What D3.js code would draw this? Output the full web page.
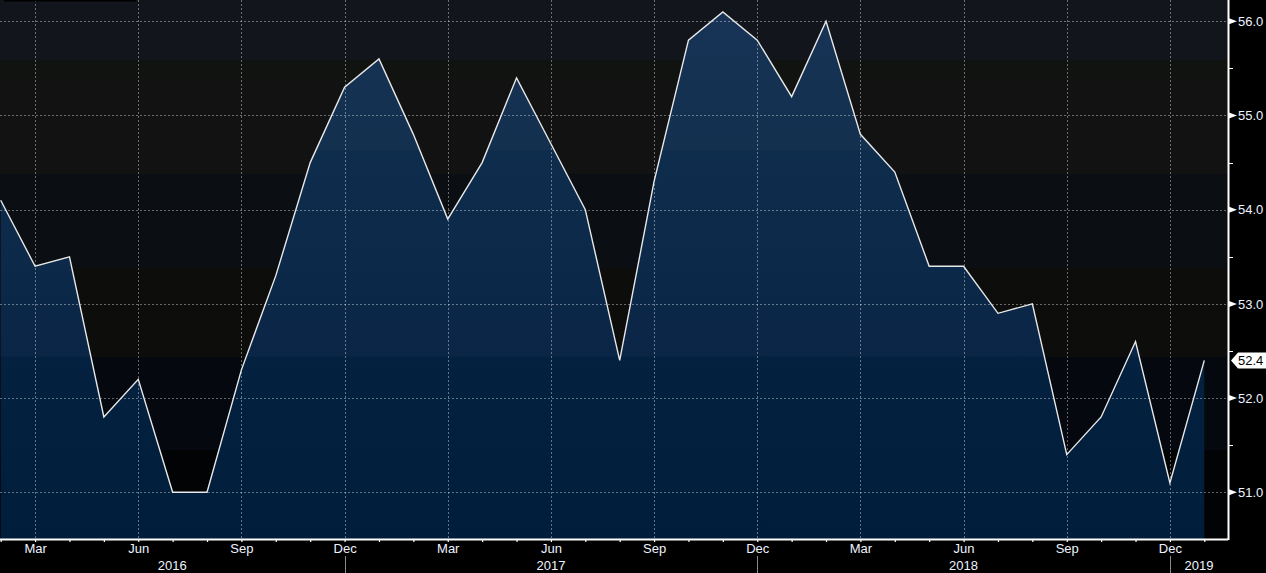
<!DOCTYPE html>
<html>
<head>
<meta charset="utf-8">
<script src="https://cdn.jsdelivr.net/npm/d3@7"></script>
<style>
  html, body { margin: 0; padding: 0; background: #000; overflow: hidden; }
  svg { display: block; }
  text { font-family: "Liberation Sans", Arial, sans-serif; }
</style>
</head>
<body>
<svg id="chart" width="1266" height="573"></svg>
<script>
// ---- data ----
const months = [
  "2016-02","2016-03","2016-04","2016-05","2016-06","2016-07","2016-08","2016-09","2016-10","2016-11","2016-12",
  "2017-01","2017-02","2017-03","2017-04","2017-05","2017-06","2017-07","2017-08","2017-09","2017-10","2017-11","2017-12",
  "2018-01","2018-02","2018-03","2018-04","2018-05","2018-06","2018-07","2018-08","2018-09","2018-10","2018-11","2018-12",
  "2019-01"
];
const values = [
  54.1, 53.4, 53.5, 51.8, 52.2, 51.0, 51.0, 52.3, 53.3, 54.5, 55.3,
  55.6, 54.8, 53.9, 54.5, 55.4, 54.7, 54.0, 52.4, 54.3, 55.8, 56.1, 55.8,
  55.2, 56.0, 54.8, 54.4, 53.4, 53.4, 52.9, 53.0, 51.4, 51.8, 52.6, 51.1,
  52.4
];
const yTicks = [51, 52, 53, 54, 55, 56];
const yMinorTicks = [51.5, 52.5, 53.5, 54.5, 55.5];
const monthNames = ["Jan","Feb","Mar","Apr","May","Jun","Jul","Aug","Sep","Oct","Nov","Dec"];
const quarterMonths = ["03","06","09","12"];
const yearLabels = ["2016","2017","2018","2019"];
const lastLabel = "52.4";

// ---- layout ----
const W = 1266, H = 573;
const plotRight = 1228, plotBottom = 539;
const svg = d3.select("#chart");

const x = d3.scalePoint().domain(months).range([0.7, 1204.3]);
const y = d3.scaleLinear().domain([51, 56]).range([492.3, 21.3]);

// background bands (style only)
const bands = [
  [0, 60, "#12151b"], [60, 82, "#10130f"], [82, 174, "#121212"],
  [174, 268, "#0b0e13"], [268, 357, "#0d0d0c"], [357, 450, "#05080e"],
  [450, 539, "#020304"]
];
svg.append("rect").attr("width", W).attr("height", H).attr("fill", "#000");
svg.selectAll("rect.band").data(bands).enter().append("rect")
  .attr("class", "band").attr("x", 0).attr("width", plotRight)
  .attr("y", d => d[0]).attr("height", d => d[1] - d[0]).attr("fill", d => d[2]);

// gradient for area
const defs = svg.append("defs");
const grad = defs.append("linearGradient").attr("id", "fillGrad")
  .attr("gradientUnits", "userSpaceOnUse").attr("x1", 0).attr("y1", 0).attr("x2", 0).attr("y2", plotBottom);
[
  [0, "#183356"], [0.278, "#13304f"], [0.28, "#0e2c4c"], [0.5, "#0c2949"],
  [0.66, "#0b2547"], [0.663, "#04213f"], [1, "#001d3b"]
].forEach(s => grad.append("stop").attr("offset", s[0]).attr("stop-color", s[1]));

const pts = months.map((m, i) => ({ m, v: values[i] }));

// area
svg.append("path").datum(pts)
  .attr("fill", "url(#fillGrad)")
  .attr("d", d3.area().x(d => x(d.m)).y0(plotBottom).y1(d => y(d.v)));

// gridlines
const gridColor = "rgba(255,255,255,0.38)";
svg.append("g").selectAll("line").data(yTicks).enter().append("line")
  .attr("x1", 0).attr("x2", plotRight)
  .attr("y1", d => Math.round(y(d)) + 0.5).attr("y2", d => Math.round(y(d)) + 0.5)
  .attr("stroke", gridColor).attr("stroke-width", 1).attr("stroke-dasharray", "2,2");
const qMonths = months.filter(m => quarterMonths.includes(m.slice(5)));
svg.append("g").selectAll("line").data(qMonths).enter().append("line")
  .attr("x1", d => Math.round(x(d)) + 0.5).attr("x2", d => Math.round(x(d)) + 0.5)
  .attr("y1", 0).attr("y2", plotBottom)
  .attr("stroke", gridColor).attr("stroke-width", 1).attr("stroke-dasharray", "2,2");

// line
svg.append("path").datum(pts)
  .attr("fill", "none").attr("stroke", "#e8e8e8").attr("stroke-width", 1.4)
  .attr("stroke-linejoin", "miter")
  .attr("d", d3.line().x(d => x(d.m)).y(d => y(d.v)));

// top-left small black bar
svg.append("rect").attr("x", 4).attr("y", 0).attr("width", 132).attr("height", 1.5).attr("fill", "#000");

// bottom axis
const xAxis = d3.axisBottom(x)
  .tickValues(months)
  .tickSize(3)
  .tickPadding(2)
  .tickFormat(m => quarterMonths.includes(m.slice(5)) ? monthNames[+m.slice(5) - 1] : "");
const gx = svg.append("g").attr("transform", `translate(0,${plotBottom})`).call(xAxis);
gx.select(".domain").attr("d", `M0,0.5H${plotRight}`).attr("stroke", "#fff").attr("stroke-width", 2);
gx.selectAll(".tick line").attr("stroke", "#fff").attr("stroke-width", 1.2);
gx.selectAll(".tick text").attr("fill", "#eef3ff").attr("font-size", 13)
  .attr("font-family", "Liberation Sans, Arial, sans-serif");

// year separators and labels
const decMonths = months.filter(m => m.slice(5) === "12");
svg.append("g").selectAll("line").data(decMonths).enter().append("line")
  .attr("x1", d => Math.round(x(d)) + 0.5).attr("x2", d => Math.round(x(d)) + 0.5)
  .attr("y1", 556).attr("y2", H).attr("stroke", "#8a8a8a").attr("stroke-width", 1);
const bounds = [0, ...decMonths.map(d => x(d)), plotRight];
svg.append("g").selectAll("text").data(yearLabels).enter().append("text")
  .attr("x", (d, i) => (bounds[i] + bounds[i + 1]) / 2)
  .attr("y", 570).attr("text-anchor", "middle")
  .attr("fill", "#eef3ff").attr("font-size", 13).text(d => d);

// right axis
svg.append("line").attr("x1", plotRight + 0.5).attr("x2", plotRight + 0.5)
  .attr("y1", 0).attr("y2", plotBottom + 1).attr("stroke", "#fff").attr("stroke-width", 2);
const gy = svg.append("g");
gy.selectAll("path.tri").data(yTicks).enter().append("path")
  .attr("class", "tri")
  .attr("d", d => { const yy = y(d); return `M${plotRight + 1},${yy - 3}L${plotRight + 9},${yy}L${plotRight + 1},${yy + 3}Z`; })
  .attr("fill", "#fff");
gy.selectAll("text").data(yTicks).enter().append("text")
  .attr("x", 1238).attr("y", d => y(d)).attr("dy", "0.36em")
  .attr("fill", "#eef3ff").attr("font-size", 13)
  .text(d => d3.format(".1f")(d));
gy.selectAll("line.minor").data(yMinorTicks).enter().append("line")
  .attr("class", "minor")
  .attr("x1", plotRight + 1).attr("x2", plotRight + 5)
  .attr("y1", d => Math.round(y(d)) + 0.5).attr("y2", d => Math.round(y(d)) + 0.5)
  .attr("stroke", "#fff").attr("stroke-width", 1);

// last value label
const lastV = values[values.length - 1];
const ly = y(lastV);
svg.append("path")
  .attr("d", `M1231,${ly}L1238,${ly - 8}H1266V${ly + 8}H1238Z`)
  .attr("fill", "#fff");
svg.append("text").attr("x", 1238).attr("y", ly).attr("dy", "0.36em")
  .attr("fill", "#000").attr("font-size", 13).text(lastLabel);
</script>
</body>
</html>
